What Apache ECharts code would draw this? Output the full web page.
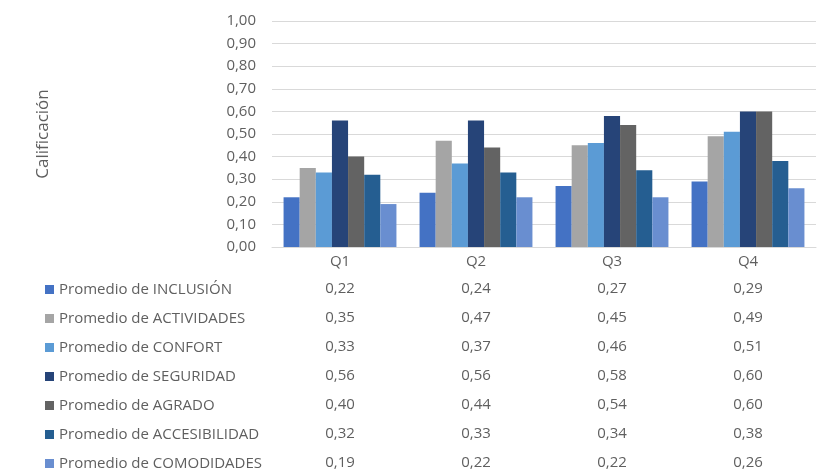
<!DOCTYPE html>
<html>
<head>
<meta charset="utf-8">
<title>Calificación</title>
<script src="https://cdn.jsdelivr.net/npm/echarts@6/dist/echarts.min.js"></script>
<style>
    html, body { margin: 0; padding: 0; background: #fff; }
    #chart { width: 826px; height: 473px; }
</style>
</head>
<body>
<div id="chart"></div>
<script>
var quarters = ['Q1', 'Q2', 'Q3', 'Q4'];
var seriesNames = ['Promedio de INCLUSIÓN', 'Promedio de ACTIVIDADES', 'Promedio de CONFORT',
    'Promedio de SEGURIDAD', 'Promedio de AGRADO', 'Promedio de ACCESIBILIDAD', 'Promedio de COMODIDADES'];
var inclusion = [0.22, 0.24, 0.27, 0.29];
var actividades = [0.35, 0.47, 0.45, 0.49];
var confort = [0.33, 0.37, 0.46, 0.51];
var seguridad = [0.56, 0.56, 0.58, 0.60];
var agrado = [0.40, 0.44, 0.54, 0.60];
var accesibilidad = [0.32, 0.33, 0.34, 0.38];
var comodidades = [0.19, 0.22, 0.22, 0.26];
var colors = ['#4472C4', '#A5A5A5', '#5B9BD5', '#264478', '#636363', '#255E91', '#698ED0'];

var allValues = [inclusion, actividades, confort, seguridad, agrado, accesibilidad, comodidades];
var textColor = '#5f5f5f';
var fontFam = 'Open Sans';

function comma(v) {
    return Number(v).toFixed(2).replace('.', ',');
}

function get_option() {
    // eje principal con Q1..Q4
    var xAxes = [{
        type: 'category',
        data: quarters,
        axisLine: { lineStyle: { color: '#d9d9d9' } },
        axisTick: { show: false },
        axisLabel: { color: textColor, fontSize: 15, fontFamily: fontFam, margin: 7 }
    }];
    // una fila de la tabla por serie, como ejes extra
    for (var i = 0; i < allValues.length; i++) {
        xAxes.push({
            type: 'category',
            gridIndex: 0,
            position: 'bottom',
            offset: 27 + i * 29,
            data: allValues[i].map(comma),
            axisLine: { show: false },
            axisTick: { show: false },
            axisLabel: { color: textColor, fontSize: 15, fontFamily: fontFam, margin: 7 }
        });
    }
    var series = [];
    for (var j = 0; j < allValues.length; j++) {
        series.push({
            name: seriesNames[j],
            type: 'bar',
            xAxisIndex: 0,
            barGap: '0%',
            barCategoryGap: '17%',
            itemStyle: { color: colors[j] },
            data: allValues[j]
        });
    }
    return {
        animation: false,
        textStyle: { fontFamily: fontFam },
        grid: { left: 272, right: 10, top: 21, bottom: 226, containLabel: false },
        legend: {
            orient: 'vertical',
            left: 45,
            top: 282,
            padding: 0,
            itemWidth: 9,
            itemHeight: 9,
            itemGap: 14,
            icon: 'rect',
            data: seriesNames,
            textStyle: { color: textColor, fontSize: 15, lineHeight: 15, fontFamily: fontFam }
        },
        xAxis: xAxes,
        yAxis: {
            type: 'value',
            min: 0,
            max: 1,
            interval: 0.1,
            name: 'Calificación',
            nameLocation: 'middle',
            nameGap: 220,
            nameTextStyle: { color: textColor, fontSize: 17, fontFamily: fontFam },
            axisLine: { show: false },
            axisTick: { show: false },
            axisLabel: { color: textColor, fontSize: 15, fontFamily: fontFam, margin: 16, formatter: comma },
            splitLine: { lineStyle: { color: '#d9d9d9', width: 1 } }
        },
        series: series
    };
}

var myChart = echarts.init(document.getElementById('chart'));
myChart.setOption(get_option());
</script>
</body>
</html>
